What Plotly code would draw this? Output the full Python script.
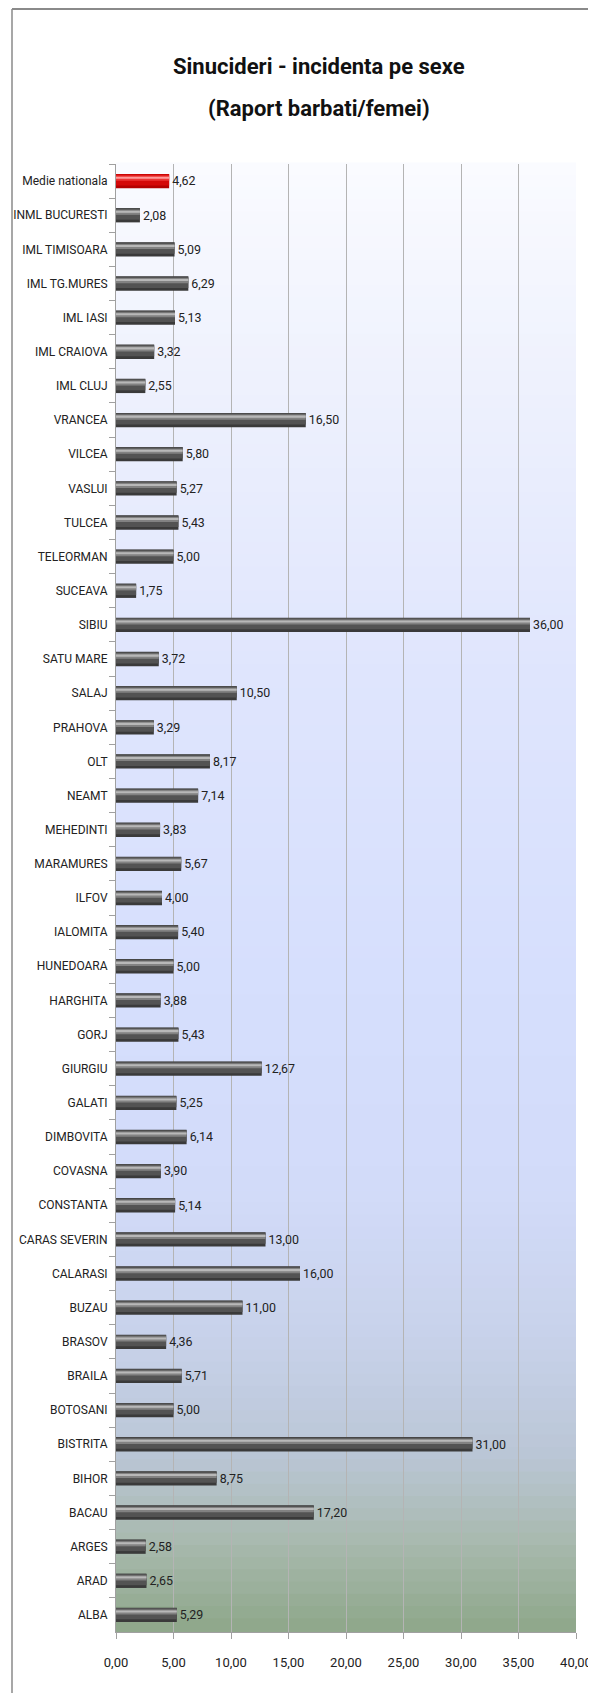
import plotly.graph_objects as go

categories = ["Medie nationala", "INML BUCURESTI", "IML TIMISOARA", "IML TG.MURES", "IML IASI",
              "IML CRAIOVA", "IML CLUJ", "VRANCEA", "VILCEA", "VASLUI", "TULCEA", "TELEORMAN",
              "SUCEAVA", "SIBIU", "SATU MARE", "SALAJ", "PRAHOVA", "OLT", "NEAMT", "MEHEDINTI",
              "MARAMURES", "ILFOV", "IALOMITA", "HUNEDOARA", "HARGHITA", "GORJ", "GIURGIU",
              "GALATI", "DIMBOVITA", "COVASNA", "CONSTANTA", "CARAS SEVERIN", "CALARASI",
              "BUZAU", "BRASOV", "BRAILA", "BOTOSANI", "BISTRITA", "BIHOR", "BACAU", "ARGES",
              "ARAD", "ALBA"]
values = [4.62, 2.08, 5.09, 6.29, 5.13, 3.32, 2.55, 16.50, 5.80, 5.27, 5.43, 5.00,
          1.75, 36.00, 3.72, 10.50, 3.29, 8.17, 7.14, 3.83, 5.67, 4.00, 5.40, 5.00,
          3.88, 5.43, 12.67, 5.25, 6.14, 3.90, 5.14, 13.00, 16.00, 11.00, 4.36, 5.71,
          5.00, 31.00, 8.75, 17.20, 2.58, 2.65, 5.29]
x_ticks = [0, 5, 10, 15, 20, 25, 30, 35, 40]
title_line1 = "Sinucideri - incidenta pe sexe"
title_line2 = "(Raport barbati/femei)"

FONT = "Roboto, Liberation Sans, sans-serif"

# the page body adds an 8px margin; the figure is sized so the page fits the window
OFF = 8
W, H = 596 - OFF, 1701 - 2 * OFF
# plot-area edges in window pixels
PX0, PX1, PY0, PY1 = 116, 576, 164, 1632
L, R, T = PX0 - OFF, W - (PX1 - OFF), PY0 - OFF
B = H - (PY1 - OFF)
PW, PH = W - L - R, H - T - B

# shading layers for the cylindrical look: (offset, width, grey colour, red colour)
layers = [
    (-0.21, 0.42, "#3a3a3a", "#b40000"),
    (-0.20, 0.33, "#535353", "#d40808"),
    (-0.16, 0.15, "#828282", "#ec3636"),
    (-0.13, 0.06, "#b8b8b8", "#ff9c9c"),
]

fig = go.Figure()
for i, (off, w, grey, red) in enumerate(layers):
    colors = [red if c == "Medie nationala" else grey for c in categories]
    kw = {}
    if i == 0:
        kw = dict(texttemplate="%{x:.2f}", textposition="outside",
                  textfont=dict(family=FONT, size=13, color="#222222"),
                  cliponaxis=False)
    fig.add_trace(go.Bar(
        x=values, y=categories, orientation="h",
        offset=off, width=w,
        marker=dict(color=colors, line=dict(width=0)),
        hoverinfo="skip" if i else None,
        showlegend=False, **kw))

# background gradient of the plot area
stops = [(0.0, (250, 251, 255)), (0.15, (238, 241, 253)), (0.35, (223, 229, 253)),
         (0.55, (214, 223, 253)), (0.70, (210, 219, 249)), (0.80, (200, 210, 234)),
         (0.88, (186, 198, 214)), (0.94, (168, 185, 174)), (1.0, (142, 167, 138))]

def col_at(t):
    for (t0, c0), (t1, c1) in zip(stops[:-1], stops[1:]):
        if t0 <= t <= t1:
            f = (t - t0) / (t1 - t0) if t1 > t0 else 0
            return "rgb(%d,%d,%d)" % tuple(round(a + (b - a) * f) for a, b in zip(c0, c1))
    return "rgb(%d,%d,%d)" % stops[-1][1]

shapes = []
N = 120
for k in range(N):
    t = (k + 0.5) / N
    shapes.append(dict(type="rect", xref="x domain", yref="y domain",
                       x0=0, x1=1, y0=1 - (k + 1) / N, y1=1 - k / N + 0.001,
                       fillcolor=col_at(t), line=dict(width=0), layer="below"))

# chart frame (left and top edges), window pixels (12, 9)
fx = (12 - OFF - L) / PW
fy = 1 + (T - (9 - OFF)) / PH
shapes.append(dict(type="line", xref="paper", yref="paper", x0=fx, x1=1.2,
                   y0=fy, y1=fy, line=dict(color="#8a8a8a", width=2)))
shapes.append(dict(type="line", xref="paper", yref="paper", x0=fx, x1=fx,
                   y0=fy, y1=-0.1, line=dict(color="#8a8a8a", width=1.5)))

tx = (319 - OFF - L) / PW
fig.update_layout(
    width=W, height=H,
    margin=dict(l=L, r=R, t=T, b=B),
    paper_bgcolor="white", plot_bgcolor="white",
    separators=",.",
    barmode="overlay",
    font=dict(family=FONT, size=13, color="#222222"),
    shapes=shapes,
    annotations=[
        dict(text="<b>" + title_line1 + "</b>", xref="paper", yref="paper",
             x=tx, y=1 + (T - (66 - OFF)) / PH, showarrow=False,
             xanchor="center", yanchor="middle",
             font=dict(family=FONT, size=22, color="#111111")),
        dict(text="<b>" + title_line2 + "</b>", xref="paper", yref="paper",
             x=tx, y=1 + (T - (108 - OFF)) / PH, showarrow=False,
             xanchor="center", yanchor="middle",
             font=dict(family=FONT, size=22, color="#111111")),
    ],
    xaxis=dict(range=[0, 40], tickvals=x_ticks, tickformat=".2f",
               showgrid=True, gridcolor="#b4b4b4", gridwidth=1,
               ticks="outside", ticklen=6, tickcolor="#a0a0a0",
               showline=True, linecolor="#a0a0a0", zeroline=False,
               ticklabelstandoff=12, tickfont=dict(size=13),
               automargin=False),
    yaxis=dict(autorange="reversed", type="category", tickson="boundaries",
               ticks="outside", ticklen=6, tickcolor="#a0a0a0",
               showline=True, linecolor="#a0a0a0", showgrid=False,
               ticklabelstandoff=5, tickfont=dict(size=12),
               automargin=False),
)

fig.write_html("out.html")
